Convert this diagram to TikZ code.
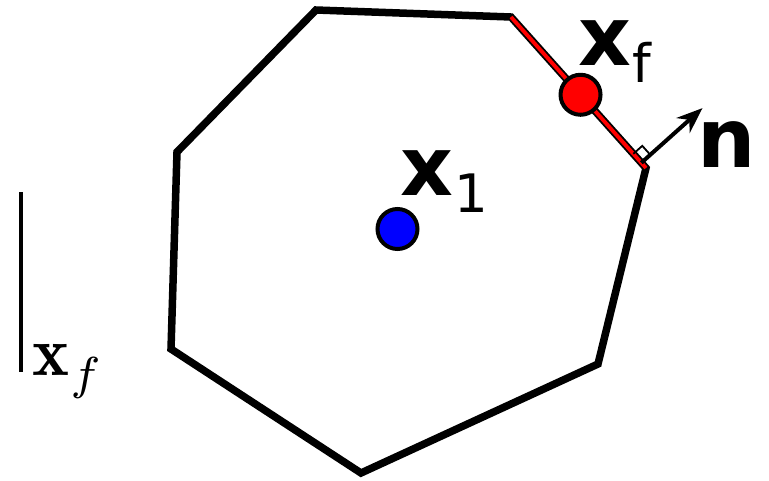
\documentclass[tikz,border=0pt]{standalone}
\usepackage{fontspec}
\usepackage{graphicx}
\newfontfamily\djb{DejaVu Sans Bold}
\newfontfamily\djr{DejaVu Sans}
\usetikzlibrary{arrows.meta,calc}
\begin{document}
\begin{tikzpicture}[x=1pt,y=-1pt,
  poly/.style={line width=7.5pt,line join=miter},
  dot/.style={circle,draw=black,line width=4pt,minimum size=40pt,inner sep=0},
  normarrow/.style={line width=4pt,-{Stealth[length=26pt,width=20pt]}},
  lbl/.style={anchor=base west,inner sep=0,text=black}]
\useasboundingbox (0,0) rectangle (769,480);
\coordinate (v1) at (316,10);
\coordinate (v2) at (511,17);
\coordinate (v3) at (646,168);
\coordinate (v4) at (598,364);
\coordinate (v5) at (361,473);
\coordinate (v6) at (171,349);
\coordinate (v7) at (177,152);
\draw[poly] (v1) -- (v2) -- (v3) -- (v4) -- (v5) -- (v6) -- (v7) -- cycle;
\draw[red,line width=3.8pt] (v2) -- (v3);
\node[dot,fill=red] (xf) at ($(v2)!0.515!(v3)$) {};
\node[dot,fill=blue] (x1) at (397.5,229) {};
% normal arrow
\coordinate (nb) at ($(v3)!7pt!(v2)$);
\coordinate (ne) at ($(nb)!82pt!-90:(v2)$);
\draw[normarrow] (nb) -- (ne);
\coordinate (ra1) at ($(nb)!12pt!(v2)$);
\coordinate (ra2) at ($(nb)!12pt!(ne)$);
\draw[line width=1.8pt] (ra1) -- ($(ra1)+(ra2)-(nb)$) -- (ra2);
% labels
\node[lbl] (lx1) at (400,195) {\fontsize{82}{82}\djb x};
\node[lbl] (lx1s) at (454,212) {\fontsize{53}{53}\djr 1};
\node[lbl] (lxf) at (578,65) {\fontsize{82}{82}\djb x};
\node[lbl] (lxfs) at (632,82) {\fontsize{53}{53}\djr f};
\node[lbl] (ln) at (697,167) {\fontsize{82}{82}\djb n};
% left
\coordinate (la) at (21,192);
\coordinate (lb) at (21,372);
\draw[line width=3.5pt] (la) -- (lb);
\node[lbl] (lm) at (32,375) {\scalebox{7}{$\mathbf{x}$}};
\node[lbl] (lms) at (70,389) {\scalebox{6.6}{$\scriptstyle f$}};
\end{tikzpicture}
\end{document}
